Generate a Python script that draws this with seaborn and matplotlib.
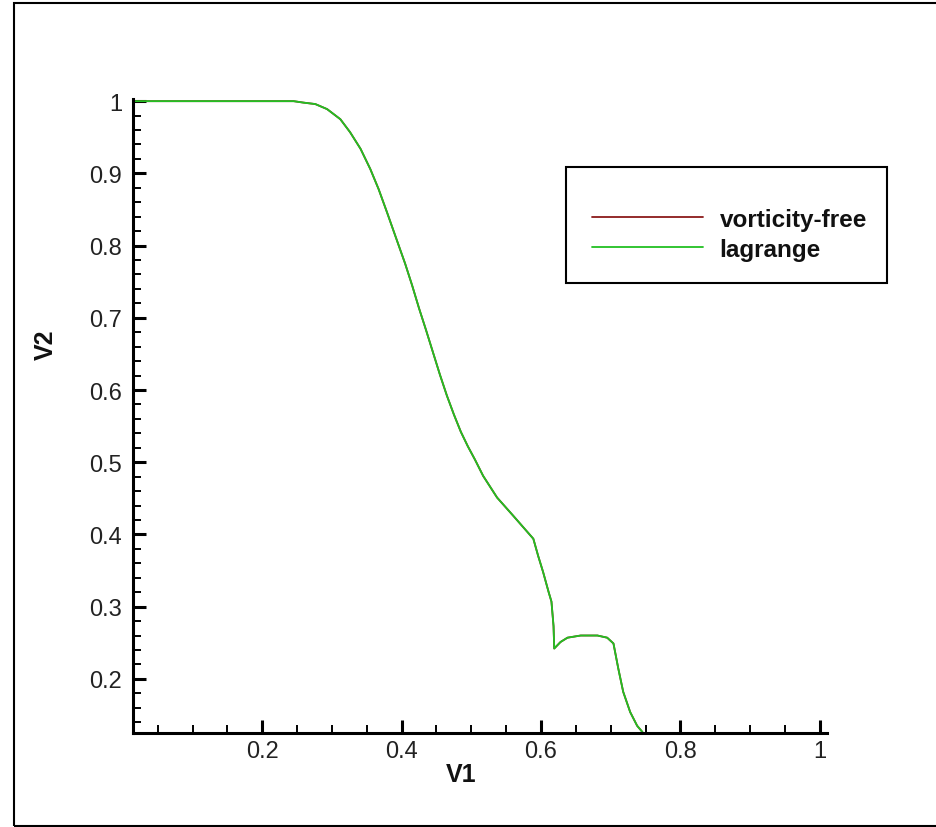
import matplotlib
matplotlib.use("Agg")
import matplotlib.pyplot as plt
from matplotlib.patches import Rectangle
from matplotlib.ticker import MultipleLocator, FixedLocator, FixedFormatter
import numpy as np
import pandas as pd
import seaborn as sns

# Profile samples (V1, V2)
v1 = [0.0144, 0.10, 0.20, 0.245, 0.259, 0.276, 0.293, 0.312, 0.326, 0.341,
      0.355, 0.367, 0.379, 0.394, 0.405, 0.415, 0.425, 0.435, 0.445, 0.455,
      0.465, 0.475, 0.485, 0.495, 0.505, 0.517, 0.537, 0.560, 0.589, 0.596,
      0.603, 0.611, 0.615, 0.618, 0.619, 0.628, 0.638, 0.657, 0.681, 0.695,
      0.704, 0.711, 0.718, 0.728, 0.738, 0.745, 0.750]
v2 = [1.000, 1.000, 1.000, 1.000, 0.998, 0.996, 0.989, 0.975, 0.957, 0.934,
      0.906, 0.878, 0.846, 0.805, 0.775, 0.745, 0.713, 0.683, 0.652, 0.621,
      0.592, 0.566, 0.542, 0.522, 0.504, 0.481, 0.451, 0.426, 0.394, 0.370,
      0.348, 0.320, 0.307, 0.273, 0.242, 0.251, 0.257, 0.260, 0.260, 0.257,
      0.249, 0.214, 0.182, 0.154, 0.135, 0.127, 0.120]

series_names = ["vorticity-free", "lagrange"]
series_colors = ["#8b1a1a", "#22c022"]

x_ticks = [0.2, 0.4, 0.6, 0.8, 1.0]
x_tick_labels = ["0.2", "0.4", "0.6", "0.8", "1"]
y_ticks = [0.2, 0.3, 0.4, 0.5, 0.6, 0.7, 0.8, 0.9, 1.0]
y_tick_labels = ["0.2", "0.3", "0.4", "0.5", "0.6", "0.7", "0.8", "0.9", "1"]

# Both solutions share the same curve; the lagrange one is drawn on top
df = pd.concat([
    pd.DataFrame({"V1": v1, "V2": v2, "method": name}) for name in series_names
], ignore_index=True)

sns.set_style("white")
plt.rcParams["font.family"] = ["Liberation Sans", "DejaVu Sans"]

W, H = 936, 828
fig = plt.figure(figsize=(W / 100, H / 100), dpi=100)
fig.patch.set_facecolor("white")

ax_l, ax_b, ax_w, ax_h = 133, 734, 694, 634
ax = fig.add_axes([ax_l / W, (H - ax_b) / H, ax_w / W, ax_h / H])

sns.lineplot(data=df, x="V1", y="V2", hue="method", hue_order=series_names,
             palette=series_colors, estimator=None, sort=False,
             linewidth=1.3, ax=ax)

ax.set_xlim(0.0144, 1.0105)
ax.set_ylim(0.125, 1.003)

for side in ["top", "right"]:
    ax.spines[side].set_visible(False)
for side in ["left", "bottom"]:
    ax.spines[side].set_linewidth(2.2)
    ax.spines[side].set_color("black")

ax.xaxis.set_major_locator(FixedLocator(x_ticks))
ax.xaxis.set_major_formatter(FixedFormatter(x_tick_labels))
ax.yaxis.set_major_locator(FixedLocator(y_ticks))
ax.yaxis.set_major_formatter(FixedFormatter(y_tick_labels))
ax.xaxis.set_minor_locator(MultipleLocator(0.05))
ax.yaxis.set_minor_locator(MultipleLocator(0.02))

ax.tick_params(which="both", direction="in", color="black",
               bottom=True, left=True, top=False, right=False)
ax.tick_params(which="major", length=9.5, width=2.2, labelsize=17,
               labelcolor="#222222")
ax.tick_params(which="minor", length=5.5, width=1.4)
ax.tick_params(axis="y", which="major", pad=8)
ax.tick_params(axis="x", which="major", pad=5)

ax.set_xlabel("V1", fontsize=18, fontweight="bold", color="#111111")
ax.set_ylabel("V2", fontsize=18, fontweight="bold", color="#111111")
ax.xaxis.set_label_coords(0.4726, -0.046)
ax.yaxis.set_label_coords(-0.109, 0.6136)

# Legend: entries placed inside a fixed outlined box
handles, labels = ax.get_legend_handles_labels()
if ax.get_legend() is not None:
    ax.get_legend().remove()
leg = fig.legend(handles, labels, loc="upper left",
                 bbox_to_anchor=(592 / W, (H - 209) / H),
                 bbox_transform=fig.transFigure, frameon=False,
                 borderpad=0, borderaxespad=0, handlelength=4.55,
                 handletextpad=0.7, labelspacing=0.28,
                 prop={"family": ["Liberation Sans", "DejaVu Sans"],
                       "weight": "bold", "size": 17.5})
for text in leg.get_texts():
    text.set_color("#111111")
for line in leg.get_lines():
    line.set_linewidth(1.3)
fig.add_artist(Rectangle((566 / W, (H - 284) / H), 321 / W, 116 / H,
                         transform=fig.transFigure, fill=False,
                         edgecolor="black", linewidth=1.5))

# Page frame
fig.add_artist(Rectangle((13.5 / W, (H - 826.5) / H), 1.2, (826.5 - 4) / H,
                         transform=fig.transFigure, fill=False,
                         edgecolor="black", linewidth=1.5, clip_on=False))

fig.savefig("out.png", dpi=100, facecolor="white")
